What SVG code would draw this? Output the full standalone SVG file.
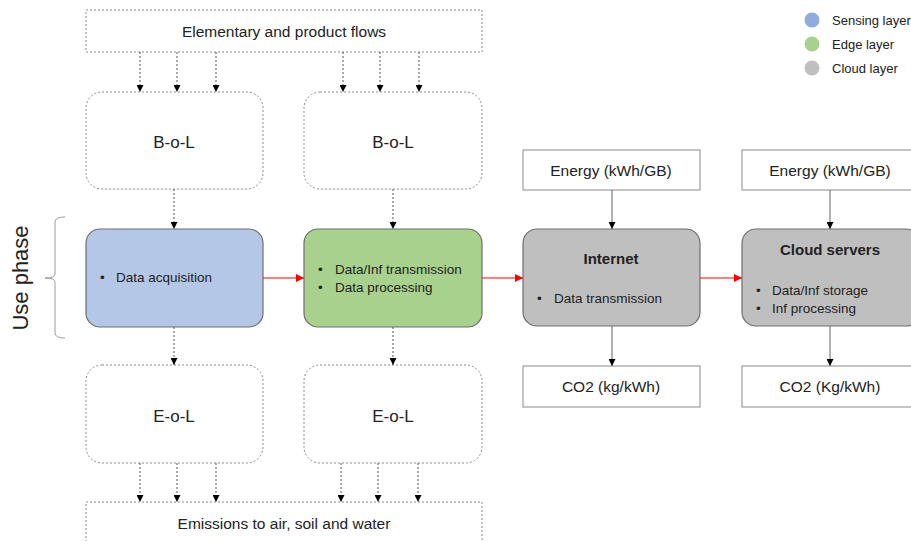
<svg xmlns="http://www.w3.org/2000/svg" width="911" height="541" viewBox="0 0 911 541">
<defs>
<marker id="ah" viewBox="0 0 10 10" refX="10" refY="5" markerWidth="7" markerHeight="7" markerUnits="userSpaceOnUse" orient="auto"><path d="M0,0 L10,5 L0,10 z" fill="#000"/></marker>
<marker id="ahr" viewBox="0 0 10 10" refX="10" refY="5" markerWidth="8" markerHeight="8" markerUnits="userSpaceOnUse" orient="auto"><path d="M0,0 L10,5 L0,10 z" fill="#ff0000"/></marker>
<style>
text{font-family:"Liberation Sans",Arial,sans-serif;fill:#222}
.dash{fill:#fff;stroke:#8a8a8a;stroke-width:1;stroke-dasharray:2,2}
.solid{fill:#fff;stroke:#8a8a8a;stroke-width:1}
.node{stroke:#6e6e6e;stroke-width:1.2}
.dc{stroke:#555;stroke-width:1;stroke-dasharray:2,2;fill:none;marker-end:url(#ah)}
.sc{stroke:#666;stroke-width:1;fill:none;marker-end:url(#ah)}
.rc{stroke:#ff0000;stroke-width:1;fill:none;marker-end:url(#ahr)}
.lbl{font-size:15.5px}
.big{font-size:17px}
.sm{font-size:13.5px}
.lg{font-size:13px}
.b{font-weight:bold;font-size:15px}
</style>
</defs>
<rect width="911" height="541" fill="#fff"/>

<g id="legend">
<circle cx="812" cy="20" r="7.5" fill="#8faadc"/>
<circle cx="812" cy="44" r="7.5" fill="#a9d18e"/>
<circle cx="812" cy="68" r="7.5" fill="#bfbfbf"/>
<text x="832" y="25" class="lg">Sensing layer</text>
<text x="832" y="49" class="lg">Edge layer</text>
<text x="832" y="73" class="lg">Cloud layer</text>
</g>

<g id="flows">
<rect x="86" y="10" width="396" height="42" class="dash"/>
<text x="284" y="37" class="lbl" text-anchor="middle">Elementary and product flows</text>
</g>
<g id="bol1">
<rect x="86" y="92" width="177" height="97" rx="16" class="dash"/>
<text x="174" y="148" class="big" text-anchor="middle">B-o-L</text>
</g>
<g id="bol2">
<rect x="304" y="92" width="178" height="97" rx="16" class="dash"/>
<text x="393" y="148" class="big" text-anchor="middle">B-o-L</text>
</g>

<g id="usephase">
<path d="M65,217 Q55,217 55,222 L55,274 Q55,278 45,278 Q55,278 55,282 L55,333 Q55,338 65,338" fill="none" stroke="#999" stroke-width="1"/>
<text transform="translate(28,278) rotate(-90)" font-size="22" text-anchor="middle">Use phase</text>
</g>

<g id="sensing">
<rect x="86" y="229" width="177" height="98" rx="14" fill="#b4c7e7" class="node"/>
<text x="100" y="282" class="sm">•</text>
<text x="116" y="282" class="sm">Data acquisition</text>
</g>
<g id="edge">
<rect x="304" y="229" width="178" height="98" rx="14" fill="#a9d18e" class="node"/>
<text x="318" y="274" class="sm">•</text>
<text x="335" y="274" class="sm">Data/Inf transmission</text>
<text x="318" y="292" class="sm">•</text>
<text x="335" y="292" class="sm">Data processing</text>
</g>
<g id="internet">
<rect x="523" y="229" width="177" height="97" rx="14" fill="#bfbfbf" class="node"/>
<text x="611" y="264" class="b" text-anchor="middle">Internet</text>
<text x="537" y="303" class="sm">•</text>
<text x="554" y="303" class="sm">Data transmission</text>
</g>
<g id="cloud">
<rect x="742" y="229" width="178" height="97" rx="14" fill="#bfbfbf" class="node"/>
<text x="830" y="255" class="b" text-anchor="middle">Cloud servers</text>
<text x="756" y="295" class="sm">•</text>
<text x="772" y="295" class="sm">Data/Inf storage</text>
<text x="756" y="313" class="sm">•</text>
<text x="772" y="313" class="sm">Inf processing</text>
</g>

<g id="energy1">
<rect x="523" y="150" width="177" height="40" class="solid"/>
<text x="611" y="176" class="lbl" text-anchor="middle">Energy (kWh/GB)</text>
</g>
<g id="energy2">
<rect x="742" y="150" width="178" height="40" class="solid"/>
<text x="830" y="176" class="lbl" text-anchor="middle">Energy (kWh/GB)</text>
</g>
<g id="co2a">
<rect x="523" y="366" width="177" height="41" class="solid"/>
<text x="611" y="392" class="lbl" text-anchor="middle">CO2 (kg/kWh)</text>
</g>
<g id="co2b">
<rect x="742" y="366" width="178" height="41" class="solid"/>
<text x="830" y="392" class="lbl" text-anchor="middle">CO2 (Kg/kWh)</text>
</g>

<g id="eol1">
<rect x="86" y="365" width="177" height="98" rx="16" class="dash"/>
<text x="174" y="422" class="big" text-anchor="middle">E-o-L</text>
</g>
<g id="eol2">
<rect x="304" y="365" width="178" height="98" rx="16" class="dash"/>
<text x="393" y="422" class="big" text-anchor="middle">E-o-L</text>
</g>
<g id="emissions">
<rect x="86" y="502" width="396" height="50" class="dash"/>
<text x="284" y="529" class="lbl" text-anchor="middle">Emissions to air, soil and water</text>
</g>

<g id="connectors">
<line x1="140" y1="52" x2="140" y2="92" class="dc"/>
<line x1="177" y1="52" x2="177" y2="92" class="dc"/>
<line x1="216" y1="52" x2="216" y2="92" class="dc"/>
<line x1="343" y1="52" x2="343" y2="92" class="dc"/>
<line x1="380" y1="52" x2="380" y2="92" class="dc"/>
<line x1="419" y1="52" x2="419" y2="92" class="dc"/>
<line x1="174" y1="189" x2="174" y2="229" class="dc"/>
<line x1="393" y1="189" x2="393" y2="229" class="dc"/>
<line x1="174" y1="327" x2="174" y2="365" class="dc"/>
<line x1="393" y1="327" x2="393" y2="365" class="dc"/>
<line x1="140" y1="463" x2="140" y2="502" class="dc"/>
<line x1="177" y1="463" x2="177" y2="502" class="dc"/>
<line x1="216" y1="463" x2="216" y2="502" class="dc"/>
<line x1="341" y1="463" x2="341" y2="502" class="dc"/>
<line x1="378" y1="463" x2="378" y2="502" class="dc"/>
<line x1="418" y1="463" x2="418" y2="502" class="dc"/>
<line x1="263" y1="278" x2="304" y2="278" class="rc"/>
<line x1="482" y1="278" x2="523" y2="278" class="rc"/>
<line x1="700" y1="278" x2="742" y2="278" class="rc"/>
<line x1="612" y1="190" x2="612" y2="229" class="sc"/>
<line x1="830" y1="190" x2="830" y2="229" class="sc"/>
<line x1="612" y1="326" x2="612" y2="366" class="sc"/>
<line x1="830" y1="326" x2="830" y2="366" class="sc"/>
</g>
</svg>
